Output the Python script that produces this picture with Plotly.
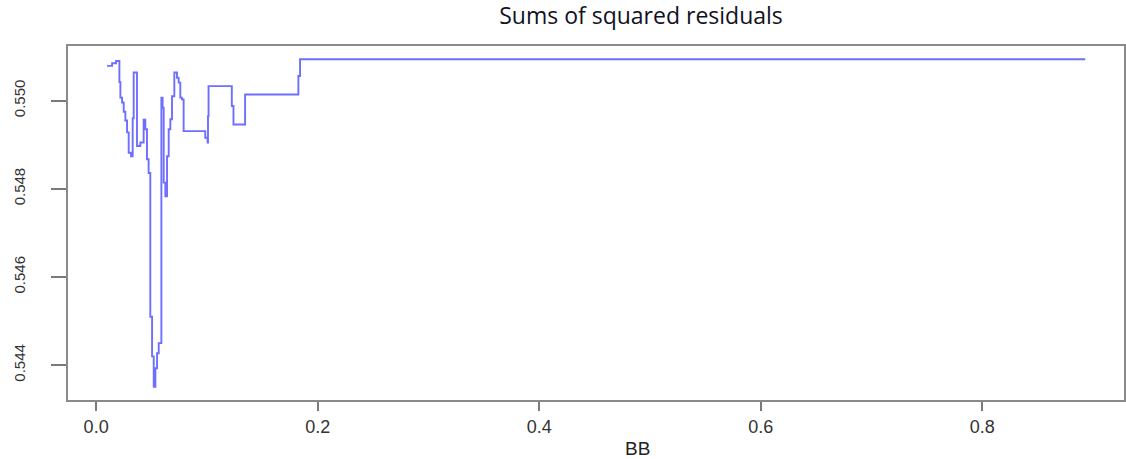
import plotly.graph_objects as go

# Data (BB vs sums of squared residuals)
bb = [0.0099, 0.0144, 0.0180, 0.0210, 0.0219, 0.0234, 0.0249, 0.0264, 0.0279, 0.0294,
      0.0315, 0.0330, 0.0339, 0.0369, 0.0399, 0.0429, 0.0444, 0.0459, 0.0474, 0.0489,
      0.0505, 0.0520, 0.0535, 0.0550, 0.0565, 0.0589, 0.0600, 0.0610, 0.0625, 0.0640,
      0.0655, 0.0670, 0.0685, 0.0706, 0.0730, 0.0745, 0.0760, 0.0775, 0.0790, 0.0985,
      0.1006, 0.1010, 0.1015, 0.1225, 0.1240, 0.1345, 0.1826, 0.1841, 0.8930]
ssr = [0.55079, 0.55085, 0.55090, 0.55042, 0.55007, 0.54996, 0.54975, 0.54955, 0.54928, 0.54882,
       0.54874, 0.54960, 0.55064, 0.54897, 0.54905, 0.54957, 0.54935, 0.54867, 0.54836, 0.54510,
       0.54420, 0.54351, 0.54393, 0.54427, 0.54450, 0.55007, 0.54984, 0.54814, 0.54783, 0.54874,
       0.54935, 0.54958, 0.55010, 0.55064, 0.55052, 0.55041, 0.55007, 0.55003, 0.54931, 0.54916,
       0.54905, 0.54965, 0.55033, 0.54988, 0.54946, 0.55014, 0.55056, 0.55094, 0.55094]

x_ticks = [0.0, 0.2, 0.4, 0.6, 0.8]
x_ticklabels = ["0.0", "0.2", "0.4", "0.6", "0.8"]
y_ticks = [0.544, 0.546, 0.548, 0.550]
y_ticklabels = ["0.544", "0.546", "0.548", "0.550"]

title_text = "Sums of squared residuals"
x_title = "BB"

fig = go.Figure()
fig.add_trace(go.Scatter(
    x=bb, y=ssr, mode="lines", line_shape="hv",
    line=dict(color="rgb(110,110,255)", width=1.9),
    showlegend=False, hoverinfo="x+y"))

axis_common = dict(
    showgrid=False, zeroline=False, automargin=False,
    showline=True, mirror=True, linecolor="#8a8a8a", linewidth=2,
    ticks="outside", tickcolor="#7a7a7a", tickwidth=2,
)

fig.update_layout(
    width=1126, height=459,
    margin=dict(l=68, r=2, t=46, b=59, autoexpand=False),
    paper_bgcolor="white", plot_bgcolor="white",
    title=dict(text=title_text, x=641 / 1126, xref="container", xanchor="center",
               y=1 - 16 / 459, yref="container", yanchor="middle",
               font=dict(family="Open Sans", size=23, color="#111122")),
    xaxis=dict(range=[-0.0254, 0.928], tickvals=x_ticks, ticktext=x_ticklabels,
               ticklen=9, tickfont=dict(family="Liberation Sans", size=18, color="#333"),
               **axis_common),
    yaxis=dict(range=[0.54321, 0.55124], tickvals=y_ticks, ticktext=y_ticklabels,
               ticklen=15, tickangle=-90, ticklabelstandoff=20,
               tickfont=dict(family="Liberation Sans", size=15, color="#333"),
               **axis_common),
    annotations=[dict(text=x_title, xref="paper", yref="paper",
                      x=(637 - 68) / 1056, y=-(448.5 - 400) / 354,
                      xanchor="center", yanchor="middle", showarrow=False,
                      font=dict(family="Liberation Sans", size=19, color="#222"))],
)

fig.write_html("out.html", config={"displayModeBar": False},
               post_script="document.body.style.margin='0';document.body.style.overflow='hidden';")
